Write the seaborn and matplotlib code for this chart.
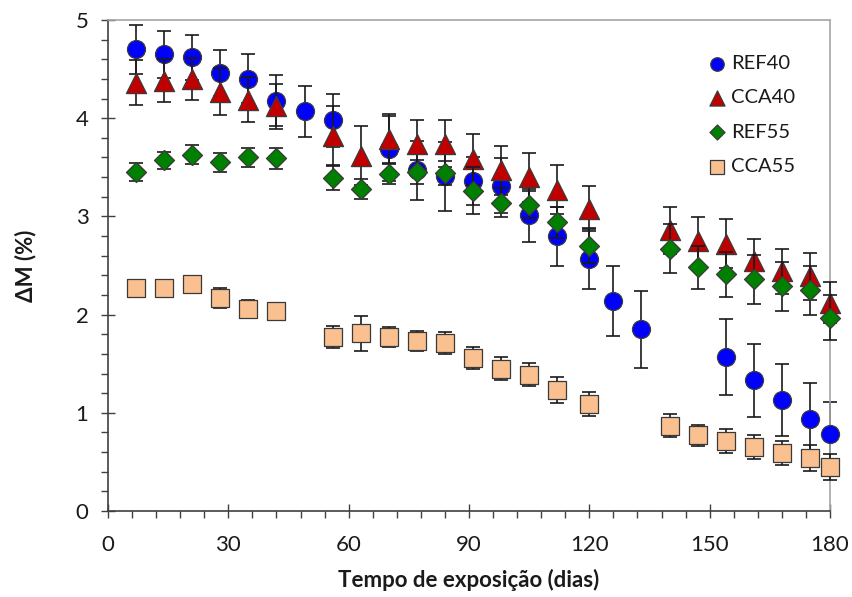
import numpy as np
import pandas as pd
import seaborn as sns
import matplotlib
matplotlib.use("Agg")
import matplotlib.pyplot as plt
from matplotlib.ticker import MultipleLocator

# ---- data ----
days_ref40 = [7, 14, 21, 28, 35, 42, 49, 56, 70, 77, 84, 91, 98, 105, 112, 120, 126, 133, 154, 161, 168, 175, 180]
ref40 = [4.70, 4.65, 4.62, 4.46, 4.40, 4.18, 4.07, 3.98, 3.69, 3.47, 3.41, 3.36, 3.31, 3.01, 2.80, 2.57, 2.14, 1.85, 1.57, 1.33, 1.13, 0.94, 0.78]
ref40_err = [0.25, 0.24, 0.23, 0.23, 0.25, 0.26, 0.26, 0.27, 0.33, 0.30, 0.35, 0.24, 0.28, 0.27, 0.30, 0.31, 0.36, 0.39, 0.39, 0.37, 0.37, 0.36, 0.33]

days_other = [7, 14, 21, 28, 35, 42, 56, 63, 70, 77, 84, 91, 98, 105, 112, 120, 140, 147, 154, 161, 168, 175, 180]
cca40 = [4.36, 4.38, 4.40, 4.27, 4.19, 4.12, 3.82, 3.62, 3.79, 3.74, 3.74, 3.58, 3.47, 3.40, 3.27, 3.08, 2.86, 2.75, 2.72, 2.55, 2.44, 2.39, 2.12]
cca40_err = [0.23, 0.22, 0.21, 0.24, 0.23, 0.23, 0.30, 0.30, 0.25, 0.24, 0.24, 0.26, 0.25, 0.25, 0.25, 0.23, 0.24, 0.24, 0.25, 0.22, 0.23, 0.24, 0.21]

ref55 = [3.45, 3.57, 3.63, 3.55, 3.60, 3.59, 3.39, 3.28, 3.43, 3.45, 3.44, 3.26, 3.14, 3.12, 2.94, 2.70, 2.67, 2.48, 2.41, 2.36, 2.29, 2.25, 1.97]
ref55_err = [0.09, 0.09, 0.10, 0.10, 0.10, 0.11, 0.12, 0.10, 0.10, 0.12, 0.12, 0.24, 0.15, 0.14, 0.16, 0.17, 0.25, 0.22, 0.23, 0.25, 0.25, 0.25, 0.23]

cca55 = [2.27, 2.27, 2.31, 2.17, 2.06, 2.04, 1.77, 1.81, 1.77, 1.73, 1.71, 1.56, 1.45, 1.39, 1.23, 1.09, 0.87, 0.77, 0.71, 0.65, 0.59, 0.54, 0.45]
cca55_err = [0.05, 0.05, 0.05, 0.10, 0.09, 0.08, 0.11, 0.18, 0.10, 0.10, 0.11, 0.11, 0.12, 0.12, 0.13, 0.12, 0.12, 0.11, 0.12, 0.12, 0.12, 0.13, 0.13]

x_ticks = [0, 30, 60, 90, 120, 150, 180]
y_ticks = [0, 1, 2, 3, 4, 5]
x_label = "Tempo de exposição (dias)"
y_label = "ΔM (%)"

# ---- style ----
sns.set_theme(style="white")
plt.rcParams['font.family'] = ['Lato', 'DejaVu Sans']

fig = plt.figure(figsize=(8.52, 5.97), dpi=100)
ax = fig.add_axes([108 / 852, 1 - 511 / 597, (830 - 108) / 852, (511 - 20) / 597])

series = [
    ("REF40", days_ref40, ref40, ref40_err, "o", "#0000FF", 168),
    ("CCA40", days_other, cca40, cca40_err, "^", "#C00000", 210),
    ("REF55", days_other, ref55, ref55_err, "D", "#008000", 104),
    ("CCA55", days_other, cca55, cca55_err, "s", "#FAC090", 165),
]

for i, (name, d, v, e, mk, col, sz) in enumerate(series):
    ax.errorbar(d, v, yerr=e, fmt='none', ecolor='#1a1a1a', elinewidth=1.2,
                capsize=5, capthick=1.2, zorder=2 + 2 * i, clip_on=False)
    df = pd.DataFrame({"dias": d, "dM": v})
    sns.scatterplot(data=df, x="dias", y="dM", ax=ax, marker=mk, s=sz, color=col,
                    edgecolor='#3a3a3a', linewidth=0.9, label=name,
                    zorder=3 + 2 * i, clip_on=False)

ax.set_xlim(0, 180)
ax.set_ylim(0, 5)
ax.set_xticks(x_ticks)
ax.set_yticks(y_ticks)
ax.xaxis.set_minor_locator(MultipleLocator(6))
ax.yaxis.set_minor_locator(MultipleLocator(0.2))
ax.tick_params(which='major', direction='inout', length=10, width=1.0, color='#404040',
               labelsize=16, labelcolor='#1a1a1a', bottom=True, left=True)
ax.tick_params(axis='x', which='major', pad=12)
ax.tick_params(axis='y', which='major', pad=9)
ax.tick_params(which='minor', direction='out', length=5, width=1.0, color='#404040',
               bottom=True, left=True)

for s in ['left', 'bottom']:
    ax.spines[s].set_color('#404040')
    ax.spines[s].set_linewidth(1.2)
for s in ['top', 'right']:
    ax.spines[s].set_color('#A6A6A6')
    ax.spines[s].set_linewidth(1.2)

ax.set_xlabel(x_label, fontsize=16, fontweight='bold', labelpad=10, color='#1a1a1a')
ax.set_ylabel(y_label, fontsize=16, fontweight='bold', labelpad=28, color='#1a1a1a')

leg = ax.legend(loc='upper left', bbox_to_anchor=(0.815, 0.945), frameon=False,
                fontsize=14.5, markerscale=0.75, handletextpad=0.1, labelspacing=0.85,
                handlelength=1.2, borderaxespad=0)
for t in leg.get_texts():
    t.set_color('#1a1a1a')

fig.savefig("out.png", dpi=100)
